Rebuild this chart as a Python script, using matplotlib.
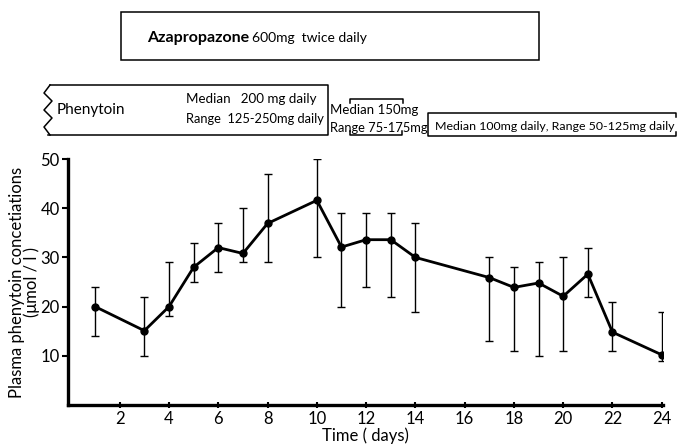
import numpy as np
import matplotlib.pyplot as plt
from matplotlib.patches import Rectangle

plt.rcParams['font.family'] = ['Lato', 'DejaVu Sans']

# data
days = [1, 3, 4, 5, 6, 7, 8, 10, 11, 12, 13, 14, 17, 18, 19, 20, 21, 22, 24]
conc = [20, 15.1, 20, 28, 32, 30.8, 36.9, 41.6, 32.1, 33.6, 33.6, 30, 25.9, 23.9, 24.8, 22.1, 26.6, 14.8, 10.2]
upper = [24, 22, 29, 33, 37, 40, 47, 50, 39, 39, 39, 37, 30, 28, 29, 30, 32, 21, 19]
lower = [14, 10, 18, 25, 27, 29, 29, 30, 20, 24, 22, 19, 13, 11, 10, 11, 22, 11, 9]
xticks = list(range(2, 25, 2))
yticks = [10, 20, 30, 40, 50]

W, H = 683, 445
fig = plt.figure(figsize=(W / 100, H / 100), dpi=100)

# overlay in pixel coordinates for the dosage boxes on top
ov = fig.add_axes([0, 0, 1, 1])
ov.set_xlim(0, W)
ov.set_ylim(H, 0)
ov.axis('off')

k = 'black'
# Azapropazone box
ov.add_patch(Rectangle((121, 12), 418, 48, fill=False, lw=1.1, ec=k))
ov.text(147, 38, 'Azapropazone', fontsize=11.5, fontweight='bold', va='center', ha='left')
ov.text(252, 38, '600mg  twice daily', fontsize=10, va='center', ha='left')

# Phenytoin box with zigzag left edge
zx = [50, 44, 52, 44, 52, 44, 50]
zy = [85, 93, 101, 110, 118, 127, 135]
ov.plot(zx, zy, color=k, lw=1.1)
ov.plot([50, 328, 328, 48], [85, 85, 135, 135], color=k, lw=1.1)
ov.text(57, 110, 'Phenytoin', fontsize=11, va='center', ha='left')
ov.text(186, 99, 'Median   200 mg daily', fontsize=9.6, va='center', ha='left')
ov.text(186, 119, 'Range  125-250mg daily', fontsize=9.3, va='center', ha='left')

# middle brackets
ov.plot([350, 350, 403, 403], [103, 99, 99, 103], color=k, lw=1.1)
ov.plot([350, 350, 402, 402], [131, 135, 135, 131], color=k, lw=1.1)
ov.text(330, 110, 'Median 150mg', fontsize=9.5, va='center', ha='left')
ov.text(330, 128, 'Range 75-175mg', fontsize=9.3, va='center', ha='left')

# last dosage box
ov.plot([676, 676, 428, 428, 676, 676], [117, 113, 113, 136, 136, 132], color=k, lw=1.1)
ov.text(435, 126, 'Median 100mg daily, Range 50-125mg daily', fontsize=8.9, va='center', ha='left')

# main plot
ax = fig.add_axes([68 / W, 1 - 405 / H, (663 - 68) / W, (405 - 159) / H])
err = [np.array(conc) - np.array(lower), np.array(upper) - np.array(conc)]
ax.errorbar(days, conc, yerr=err, fmt='none', ecolor=k, elinewidth=1, capsize=3, capthick=1)
ax.plot(days, conc, color=k, lw=2, marker='o', markersize=5)

ax.set_xlim(-0.1, 24.05)
ax.set_ylim(0, 50)
ax.set_xticks(xticks)
ax.set_yticks(yticks)
ax.spines['top'].set_visible(False)
ax.spines['right'].set_visible(False)
ax.spines['left'].set_linewidth(2.4)
ax.spines['bottom'].set_linewidth(2.4)
ax.tick_params(axis='y', length=4, width=1.5, labelsize=12, pad=2)
ax.tick_params(axis='x', direction='inout', length=5, width=1.5, labelsize=12, pad=2)
ax.set_xlabel('Time ( days)', fontsize=12, labelpad=0)
ax.set_ylabel('Plasma phenytoin concetiations\n(μmol / l )', fontsize=12, labelpad=0, linespacing=0.95)

fig.savefig('out.png', dpi=100)
